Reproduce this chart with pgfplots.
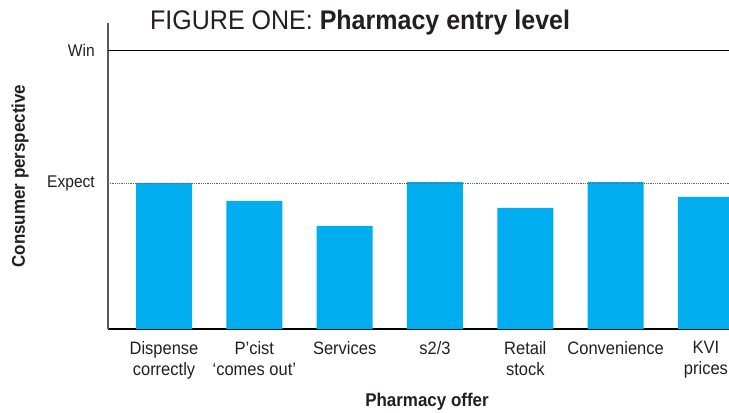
\documentclass[border=0pt]{standalone}
\usepackage{fontspec}
\setmainfont{Liberation Sans}[FakeStretch=0.92]
\newfontfamily\titlefont{Liberation Sans}[FakeStretch=0.93]
\usepackage{pgfplots}
\pgfplotsset{compat=1.18}
\definecolor{barblue}{HTML}{00AEEF}
\definecolor{txt}{HTML}{231F20}
\begin{document}
\begin{tikzpicture}
\begin{axis}[
  at={(0,0)}, anchor=south west,
  scale only axis, width=621bp, height=306bp,
  xmin=-0.62, xmax=6.255, ymin=0, ymax=306,
  axis lines*=left,
  axis line style={-},
  x axis line style={black, line width=1.1pt},
  y axis line style={black!65, line width=1.1pt},
  major tick length=0pt,
  ytick={146,279}, yticklabels={Expect,Win},
  xtick={0,1,2,3,4,5,6},
  xticklabels={Dispense\\correctly, P'cist\\`comes out', Services, s2/3, Retail\\stock, Convenience, KVI\\prices},
  yticklabel style={inner sep=0pt, xshift=-13bp, font=\fontsize{17}{20}\selectfont, text=txt},
  xticklabel style={inner sep=0pt, yshift=-12bp, align=center, font=\fontsize{18}{21}\selectfont, text=txt},
]
\addplot[ybar, bar width=0.62, fill=barblue, draw=none] coordinates {(0,146) (1,128) (2,103) (3,147) (4,121) (5,147) (6,132)};
\addplot[black, line width=0.9pt] coordinates {(-0.62,279) (6.255,279)};
\addplot[densely dotted, black!60, line width=0.8pt] coordinates {(-0.62,146) (6.255,146)};
\end{axis}
\node[rotate=90, font=\bfseries\fontsize{18.5}{21}\selectfont, text=txt] at (-88bp,153bp) {Consumer perspective};
\node[font=\bfseries\fontsize{18.5}{21}\selectfont, text=txt] at (319bp,-73bp) {Pharmacy offer};
\node[anchor=base west, inner sep=0pt, text=txt] at (42bp,299bp) {\titlefont\fontsize{27}{30}\selectfont FIGURE ONE: \textbf{Pharmacy entry level}};
\pgfresetboundingbox
\path[use as bounding box] (-108bp,-84bp) rectangle (621bp,329bp);
\end{tikzpicture}
\end{document}
